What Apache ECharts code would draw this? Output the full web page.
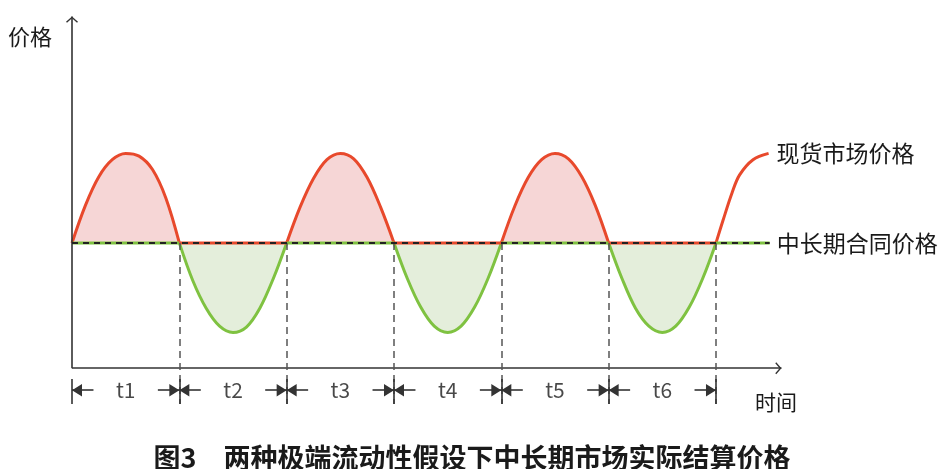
<!DOCTYPE html>
<html>
<head>
<meta charset="utf-8">
<script src="https://cdn.jsdelivr.net/npm/echarts@6/dist/echarts.min.js"></script>
<style>
  html, body { margin: 0; padding: 0; background: #fff; }
  #chart { width: 944px; height: 469px; }
</style>
</head>
<body>
<div id="chart"></div>
<script>
// 半周期标签
const periodLabels = ["t1", "t2", "t3", "t4", "t5", "t6"];
// 各时段分界点（以半周期为单位）
const boundaries = [0, 1, 2, 3, 4, 5, 6];
// 每个半周期内的取样位置
const steps = [0, 0.125, 0.25, 0.375, 0.5, 0.625, 0.75, 0.875, 1];
// 现货价格高于合同价的时段 t1、t3、t5（相对合同价）
const spotHumps = [
  [0, 0.42, 0.74, 0.93, 1.0, 0.97, 0.82, 0.5, 0],
  [0, 0.4, 0.72, 0.93, 1.0, 0.94, 0.73, 0.4, 0],
  [0, 0.41, 0.73, 0.93, 1.0, 0.94, 0.74, 0.42, 0]
];
// 现货价格低于合同价的时段 t2、t4、t6
const spotDips = [
  [0, -0.42, -0.73, -0.93, -1.0, -0.94, -0.73, -0.4, 0],
  [0, -0.4, -0.72, -0.93, -1.0, -0.93, -0.72, -0.4, 0],
  [0, -0.4, -0.73, -0.93, -1.0, -0.93, -0.72, -0.4, 0]
];
// t6 之后现货价格再次上升
const riseX = [6, 6.065, 6.15, 6.22, 6.345, 6.49];
const riseY = [0, 0.25, 0.56, 0.76, 0.93, 1.0];
// 中长期合同价格（基准）及其终点
const contractLevel = 0;
const contractEnd = 6.5;

const RED = "#e8492c";
const PINK = "#f6d6d6";
const GREEN = "#7fc241";
const LIGHT_GREEN = "#e4eedb";
const FONT = "'Noto Sans CJK SC', 'Noto Sans', sans-serif";

// 开口箭头（尖端位于符号中心）
const chevron = "path://M0,16 L0.01,16 Z M16,16 L15.99,16 Z M8,0 L8.01,0 Z M2,13.2 L8,8 L14,13.2 L13,14.2 L8,9.9 L3,14.2 Z";
// 实心三角箭头（尖端位于符号中心）
const headTri = "path://M0,16 L0.01,16 Z M16,16 L15.99,16 Z M8,0 L8.01,0 Z M3,16 L8,8 L13,16 Z";

const axisY = -1.4; // 横轴位置
const rowY = -1.645; // 时段标注行
const barTop = -1.52;
const barBottom = -1.8;

function segment(start, vals) {
  return vals.map((v, k) => [start + steps[k], contractLevel + v]);
}

const series = [];

spotHumps.forEach((vals, j) => {
  series.push({
    type: "line",
    smooth: 0.35,
    symbol: "none",
    z: 3,
    lineStyle: { color: RED, width: 3 },
    areaStyle: { color: PINK, opacity: 1 },
    data: segment(boundaries[2 * j], vals)
  });
});

spotDips.forEach((vals, j) => {
  series.push({
    type: "line",
    smooth: 0.35,
    symbol: "none",
    z: 3,
    lineStyle: { color: GREEN, width: 3 },
    areaStyle: { color: LIGHT_GREEN, opacity: 1 },
    data: segment(boundaries[2 * j + 1], vals)
  });
});

// 基准线上的彩色底线
for (let i = 0; i < periodLabels.length; i++) {
  series.push({
    type: "line",
    symbol: "none",
    z: 4,
    lineStyle: { color: i % 2 === 0 ? GREEN : RED, width: 3 },
    data: [[boundaries[i], contractLevel], [boundaries[i + 1], contractLevel]]
  });
}
series.push({
  type: "line",
  symbol: "none",
  z: 4,
  lineStyle: { color: GREEN, width: 3 },
  data: [[boundaries[6], contractLevel], [contractEnd, contractLevel]]
});

// 中长期合同价格（黑色虚线）
series.push({
  name: "中长期合同价格",
  type: "line",
  symbol: "none",
  z: 5,
  lineStyle: { color: "#222", width: 2, type: [6, 5] },
  data: [[boundaries[0], contractLevel], [contractEnd, contractLevel]],
  endLabel: {
    show: true,
    formatter: "中长期合同价格",
    distance: 7,
    color: "#1a1a1a",
    fontSize: 23,
    fontFamily: FONT
  }
});

// 现货市场价格最后一段
series.push({
  name: "现货市场价格",
  type: "line",
  smooth: 0.35,
  symbol: "none",
  z: 3,
  lineStyle: { color: RED, width: 3 },
  data: riseX.map((x, k) => [x, contractLevel + riseY[k]]),
  endLabel: {
    show: true,
    formatter: "现货市场价格",
    distance: 8,
    color: "#1a1a1a",
    fontSize: 23,
    fontFamily: FONT
  }
});

// 坐标轴
series.push({
  type: "line",
  data: [],
  markLine: {
    silent: true,
    animation: false,
    symbol: ["none", chevron],
    symbolSize: 16,
    label: { show: false },
    lineStyle: { color: "#333", width: 1.6, type: "solid" },
    data: [
      [{ coord: [0, axisY] }, { coord: [0, 2.53] }],
      [{ coord: [0, axisY] }, { coord: [6.61, axisY] }]
    ]
  }
});

// 分界虚线
series.push({
  type: "line",
  data: [],
  markLine: {
    silent: true,
    animation: false,
    symbol: ["none", "none"],
    label: { show: false },
    lineStyle: { color: "#555", width: 1.5, type: [7, 5] },
    data: boundaries.slice(1).map(b => [{ coord: [b, contractLevel] }, { coord: [b, barBottom] }])
  }
});

// 时段标注行：竖线与箭头
const arrowLines = [];
boundaries.forEach(b => {
  arrowLines.push([{ coord: [b, barTop] }, { coord: [b, barBottom] }]);
});
for (let i = 0; i < periodLabels.length; i++) {
  const a = boundaries[i];
  const b = boundaries[i + 1];
  arrowLines.push([
    { coord: [a + 0.2, rowY], symbol: "none" },
    { coord: [a, rowY], symbol: headTri, symbolSize: 20 }
  ]);
  arrowLines.push([
    { coord: [b - 0.2, rowY], symbol: "none" },
    { coord: [b, rowY], symbol: headTri, symbolSize: 20 }
  ]);
}
series.push({
  type: "scatter",
  symbolSize: 0,
  data: periodLabels.map((t, i) => [(boundaries[i] + boundaries[i + 1]) / 2, rowY]),
  label: {
    show: true,
    position: "inside",
    formatter: p => periodLabels[p.dataIndex],
    color: "#1a1a1a",
    fontSize: 21,
    fontFamily: FONT
  },
  markLine: {
    silent: true,
    animation: false,
    symbol: ["none", "none"],
    symbolSize: 20,
    label: { show: false },
    lineStyle: { color: "#333", width: 1.6, type: "solid" },
    data: arrowLines
  }
});

const chart = echarts.init(document.getElementById("chart"));
chart.setOption({
  animation: false,
  backgroundColor: "#fff",
  title: {
    text: "图3　两种极端流动性假设下中长期市场实际结算价格",
    left: "center",
    top: 439,
    textStyle: { fontSize: 27, fontWeight: "bold", color: "#1a1a1a", fontFamily: FONT }
  },
  grid: { left: 72, right: 162, top: 12, bottom: 65 },
  xAxis: { type: "value", min: 0, max: 6.615, show: false },
  yAxis: { type: "value", min: -1.8, max: 2.58, show: false },
  graphic: [
    {
      type: "text",
      x: 8,
      y: 37,
      style: { text: "价格", fill: "#1a1a1a", font: "22px " + FONT, verticalAlign: "middle" }
    },
    {
      type: "text",
      x: 755,
      y: 402,
      style: { text: "时间", fill: "#1a1a1a", font: "21px " + FONT, verticalAlign: "middle" }
    }
  ],
  series: series
});
</script>
</body>
</html>
